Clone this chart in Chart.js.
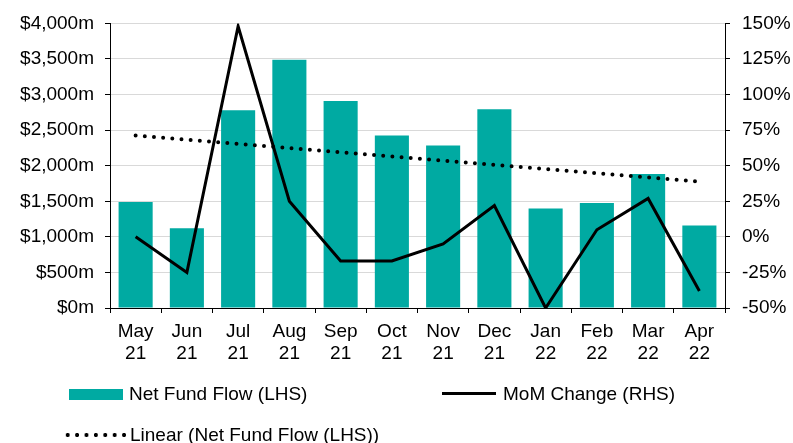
<!DOCTYPE html>
<html>
<head>
<meta charset="utf-8">
<script src="https://cdn.jsdelivr.net/npm/chart.js@4/dist/chart.umd.min.js"></script>
<style>
  html, body { margin: 0; padding: 0; background: #fff; }
  #wrap { position: relative; width: 793px; height: 443px; font-family: "Liberation Sans", Arial, sans-serif; }
  #c { position: absolute; left: 0; top: 0; }
  .lg { position: absolute; font-size: 19px; color: #000; line-height: 22px; white-space: nowrap; }
  .sw { position: absolute; }
</style>
</head>
<body>
<div id="wrap">
  <canvas id="c" width="793" height="443"></canvas>
  <div class="sw" style="left:69px; top:389px; width:54px; height:11px; background:#00AAA2;"></div>
  <div class="lg" style="left:129px; top:383px;">Net Fund Flow (LHS)</div>
  <div class="sw" style="left:442px; top:392px; width:54px; height:3px; background:#000;"></div>
  <div class="lg" style="left:503px; top:383px;">MoM Change (RHS)</div>
  <div class="sw" style="left:63px; top:432px; width:66px; height:6px; background-image:radial-gradient(circle, #000 1.8px, rgba(0,0,0,0) 2.3px); background-size:9.4px 6px; background-repeat:repeat-x;"></div>
  <div class="lg" style="left:130px; top:424px;">Linear (Net Fund Flow (LHS))</div>
</div>
<script>
// ---- data ----
const months = ['May', 'Jun', 'Jul', 'Aug', 'Sep', 'Oct', 'Nov', 'Dec', 'Jan', 'Feb', 'Mar', 'Apr'];
const years = ['21', '21', '21', '21', '21', '21', '21', '21', '22', '22', '22', '22'];
const netFundFlow = [1490, 1120, 2780, 3490, 2910, 2425, 2285, 2795, 1400, 1475, 1885, 1160]; // $m (LHS)
const momChange = [0, -25, 148, 25, -17, -17, -5, 22, -50, 5, 27, -38]; // % (RHS)
const leftTicks = { min: 0, max: 4000, step: 500 };
const rightTicks = { min: -50, max: 150, step: 25 };

// Linear trendline (least squares fit of Net Fund Flow, as the spreadsheet trendline)
const n = netFundFlow.length;
const xMean = (n - 1) / 2;
const yMean = netFundFlow.reduce((a, b) => a + b, 0) / n;
let sxy = 0, sxx = 0;
netFundFlow.forEach((y, i) => { sxy += (i - xMean) * (y - yMean); sxx += (i - xMean) * (i - xMean); });
const slope = sxy / sxx;
const trend = netFundFlow.map((_, i) => yMean + slope * (i - xMean));

const labels = months.map((m, i) => [m, years[i]]);
const FONT = { family: '"Liberation Sans", Arial, sans-serif', size: 19 };

new Chart(document.getElementById('c'), {
  data: {
    labels,
    datasets: [
      { type: 'line', label: 'MoM Change (RHS)', data: momChange, yAxisID: 'yR',
        borderColor: '#000', borderWidth: 3, pointRadius: 0, tension: 0, order: 1 },
      { type: 'line', label: 'Linear (Net Fund Flow (LHS))', data: trend, yAxisID: 'yL',
        borderColor: '#000', borderWidth: 4, borderDash: [0, 9.2], borderCapStyle: 'round',
        pointRadius: 0, tension: 0, order: 2 },
      { type: 'bar', label: 'Net Fund Flow (LHS)', data: netFundFlow, yAxisID: 'yL',
        backgroundColor: '#00AAA2', categoryPercentage: 1, barPercentage: 0.665, order: 3 }
    ]
  },
  options: {
    responsive: false,
    animation: false,
    devicePixelRatio: 1,
    layout: { padding: { top: 20, bottom: 75, left: 0, right: 0 } },
    plugins: { legend: { display: false }, tooltip: { enabled: false } },
    scales: {
      x: {
        offset: true,
        grid: { display: true, drawOnChartArea: false, drawTicks: true, tickLength: 5, offset: true, color: '#000', tickColor: '#000' },
        border: { display: true, color: '#000', width: 1 },
        ticks: { font: FONT, color: '#000', padding: 7, maxRotation: 0, autoSkip: false },
        afterFit: (s) => { s.height = 60; }
      },
      yL: {
        position: 'left',
        min: leftTicks.min, max: leftTicks.max,
        grid: { color: '#d9d9d9', tickColor: '#000', tickLength: 5, lineWidth: 1 },
        border: { display: true, color: '#000', width: 1 },
        ticks: { stepSize: leftTicks.step, font: FONT, color: '#000', padding: 11,
          callback: (v) => '$' + Number(v).toLocaleString('en-US') + 'm' },
        afterFit: (s) => { s.width = 110; }
      },
      yR: {
        position: 'right',
        min: rightTicks.min, max: rightTicks.max,
        grid: { drawOnChartArea: false, tickColor: '#000', tickLength: 5 },
        border: { display: true, color: '#000', width: 1 },
        ticks: { stepSize: rightTicks.step, font: FONT, color: '#000', padding: 12,
          callback: (v) => v + '%' },
        afterFit: (s) => { s.width = 68; }
      }
    }
  }
});
</script>
</body>
</html>
